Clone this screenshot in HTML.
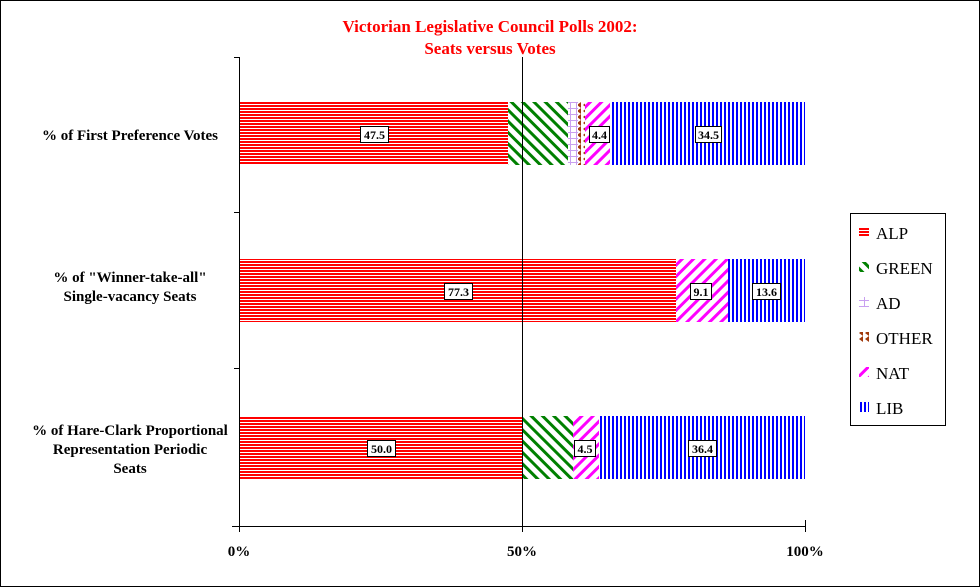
<!DOCTYPE html>
<html><head><style>body{margin:0}svg{display:block}</style></head><body>
<svg width="980" height="587" xmlns="http://www.w3.org/2000/svg" font-family="Liberation Serif, serif">
<defs>
<pattern id="alp" width="4" height="3" patternUnits="userSpaceOnUse"><rect width="4" height="3" fill="#fff"/><rect width="4" height="2" fill="#f00"/></pattern>
<pattern id="grn" width="8" height="8" patternUnits="userSpaceOnUse" patternTransform="rotate(-45)"><rect width="8" height="8" fill="#fff"/><rect width="3" height="8" fill="#008000"/></pattern>
<pattern id="ad" width="6" height="6" patternUnits="userSpaceOnUse"><rect width="6" height="6" fill="#fff"/><rect width="6" height="1" fill="#c8a0f0"/><rect width="1" height="6" fill="#c8a0f0"/></pattern>
<pattern id="oth" width="6" height="6" patternUnits="userSpaceOnUse"><rect width="6" height="6" fill="#fff"/><path d="M5 0L1 3L5 6Z" fill="#a0380a"/></pattern>
<pattern id="nat" width="8" height="8" patternUnits="userSpaceOnUse" patternTransform="rotate(45)"><rect width="8" height="8" fill="#fff"/><rect width="3" height="8" fill="#f0f"/></pattern>
<pattern id="lib" width="4" height="4" patternUnits="userSpaceOnUse"><rect width="4" height="4" fill="#fff"/><rect width="2" height="4" fill="#00f"/></pattern>
</defs>
<rect x="0.5" y="0.5" width="979" height="586" fill="#fff" stroke="#000"/>
<text x="490" y="32" text-anchor="middle" font-weight="bold" font-size="17" fill="#f00">Victorian Legislative Council Polls 2002:</text>
<text x="490" y="54" text-anchor="middle" font-weight="bold" font-size="17" fill="#f00">Seats versus Votes</text>
<rect x="239" y="102" width="269" height="63" fill="url(#alp)"/>
<rect x="508" y="102" width="60" height="63" fill="url(#grn)"/>
<rect x="568" y="102" width="10" height="63" fill="url(#ad)"/>
<rect x="578" y="102" width="7" height="63" fill="url(#oth)"/>
<rect x="585" y="102" width="25" height="63" fill="url(#nat)"/>
<rect x="610" y="102" width="195" height="63" fill="url(#lib)"/>
<rect x="239" y="259" width="437" height="63" fill="url(#alp)"/>
<rect x="676" y="259" width="52" height="63" fill="url(#nat)"/>
<rect x="728" y="259" width="77" height="63" fill="url(#lib)"/>
<rect x="239" y="416" width="283" height="63" fill="url(#alp)"/>
<rect x="522" y="416" width="51" height="63" fill="url(#grn)"/>
<rect x="573" y="416" width="26" height="63" fill="url(#nat)"/>
<rect x="599" y="416" width="206" height="63" fill="url(#lib)"/>
<g stroke="#000" stroke-width="1">
<line x1="239.5" y1="57" x2="239.5" y2="532"/>
<line x1="522.5" y1="57" x2="522.5" y2="532"/>
<line x1="805.5" y1="520" x2="805.5" y2="532"/>
<line x1="234" y1="57.5" x2="240" y2="57.5"/>
<line x1="234" y1="212.5" x2="240" y2="212.5"/>
<line x1="234" y1="368.5" x2="240" y2="368.5"/>
<line x1="232" y1="526.5" x2="806" y2="526.5"/>
</g>
<g font-weight="bold" font-size="15">
<g fill="#fff" stroke="#000"><rect x="360.5" y="126.5" width="28" height="16"/><rect x="589.5" y="126.5" width="20" height="16"/><rect x="695.5" y="126.5" width="26" height="16"/>
<rect x="444.5" y="283.5" width="28" height="16"/><rect x="690.5" y="283.5" width="21" height="16"/><rect x="752.5" y="283.5" width="28" height="16"/>
<rect x="367.5" y="440.5" width="28" height="16"/><rect x="574.5" y="440.5" width="21" height="16"/><rect x="688.5" y="440.5" width="28" height="16"/></g>
<g text-anchor="middle" font-size="12">
<text x="374.5" y="139">47.5</text><text x="599.5" y="139">4.4</text><text x="708.5" y="139">34.5</text>
<text x="458.5" y="296">77.3</text><text x="701" y="296">9.1</text><text x="766.5" y="296">13.6</text>
<text x="381.5" y="453">50.0</text><text x="585" y="453">4.5</text><text x="702.5" y="453">36.4</text>
</g>
<g text-anchor="middle">
<text x="130" y="140">% of First Preference Votes</text>
<text x="130" y="282">% of "Winner-take-all"</text>
<text x="130" y="301">Single-vacancy Seats</text>
<text x="130" y="435">% of Hare-Clark Proportional</text>
<text x="130" y="454">Representation Periodic</text>
<text x="130" y="473">Seats</text>
<text x="239" y="556">0%</text><text x="522" y="556">50%</text><text x="805" y="556">100%</text>
</g>
</g>
<rect x="850.5" y="213.5" width="95" height="212" fill="#fff" stroke="#000"/>
<g font-size="17">
<rect x="859" y="227" width="10" height="10" fill="url(#alp)"/><text x="876" y="239">ALP</text>
<rect x="859" y="262" width="10" height="10" fill="url(#grn)"/><text x="876" y="274">GREEN</text>
<rect x="859" y="297" width="10" height="10" fill="url(#ad)"/><text x="876" y="309">AD</text>
<rect x="859" y="332" width="10" height="10" fill="url(#oth)"/><text x="876" y="344">OTHER</text>
<rect x="859" y="367" width="10" height="10" fill="url(#nat)"/><text x="876" y="379">NAT</text>
<rect x="859" y="402" width="10" height="10" fill="url(#lib)"/><text x="876" y="414">LIB</text>
</g>
</svg>
</body></html>
